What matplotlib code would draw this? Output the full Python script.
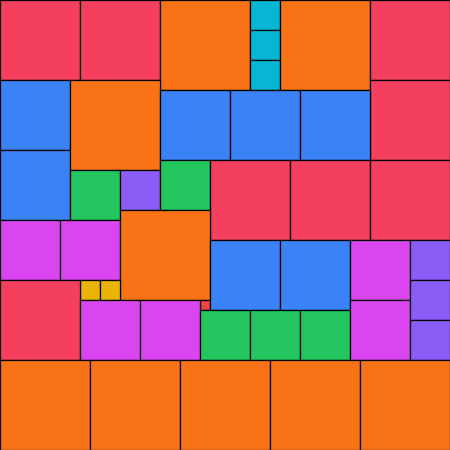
import matplotlib
matplotlib.use("Agg")
import matplotlib.pyplot as plt
from matplotlib.patches import Rectangle

# colour groups
palette = {
    "rose": "#F43F5E",
    "orange": "#F97316",
    "cyan": "#06B6D4",
    "blue": "#3B82F6",
    "green": "#22C55E",
    "violet": "#8B5CF6",
    "fuchsia": "#D946EF",
    "amber": "#EAB308",
    "red": "#EF4444",
}

# tiles: group, left, top, width, height (treemap units, y grows downwards)
groups = ["rose", "rose", "orange", "cyan", "cyan", "cyan", "orange", "rose", "rose",
          "blue", "blue", "orange", "blue", "blue", "blue",
          "green", "violet", "green", "rose", "rose", "rose",
          "fuchsia", "fuchsia", "orange", "red", "blue", "blue",
          "amber", "amber", "rose", "fuchsia", "fuchsia",
          "green", "green", "green", "fuchsia", "fuchsia",
          "violet", "violet", "violet",
          "orange", "orange", "orange", "orange", "orange"]
lefts = [0, 80, 160, 250, 250, 250, 280, 370, 370,
         0, 0, 70, 160, 230, 300,
         70, 120, 160, 210, 290, 370,
         0, 60, 120, 200, 210, 280,
         80, 100, 0, 80, 140,
         200, 250, 300, 350, 350,
         410, 410, 410,
         0, 90, 180, 270, 360]
tops = [0, 0, 0, 0, 30, 60, 0, 0, 80,
        80, 150, 80, 90, 90, 90,
        170, 170, 160, 160, 160, 160,
        220, 220, 210, 300, 240, 240,
        280, 280, 280, 300, 300,
        310, 310, 310, 240, 300,
        240, 280, 320,
        360, 360, 360, 360, 360]
widths = [80, 80, 90, 30, 30, 30, 90, 80, 80,
          70, 70, 90, 70, 70, 70,
          50, 40, 50, 80, 80, 80,
          60, 60, 90, 10, 70, 70,
          20, 20, 80, 60, 60,
          50, 50, 50, 60, 60,
          40, 40, 40,
          90, 90, 90, 90, 90]
heights = [80, 80, 90, 30, 30, 30, 90, 80, 80,
           70, 70, 90, 70, 70, 70,
           50, 40, 50, 80, 80, 80,
           60, 60, 90, 10, 70, 70,
           20, 20, 80, 60, 60,
           50, 50, 50, 60, 60,
           40, 40, 40,
           90, 90, 90, 90, 90]

fig = plt.figure(figsize=(4.5, 4.5), dpi=100)
ax = fig.add_axes([0, 0, 1, 1])

for g, x, y, w, h in zip(groups, lefts, tops, widths, heights):
    ax.add_patch(Rectangle((x, y), w, h, facecolor=palette[g],
                           edgecolor="black", linewidth=0.9))

ax.set_xlim(0, 450)
ax.set_ylim(450, 0)
ax.axis("off")

fig.savefig("out.png", dpi=100)
